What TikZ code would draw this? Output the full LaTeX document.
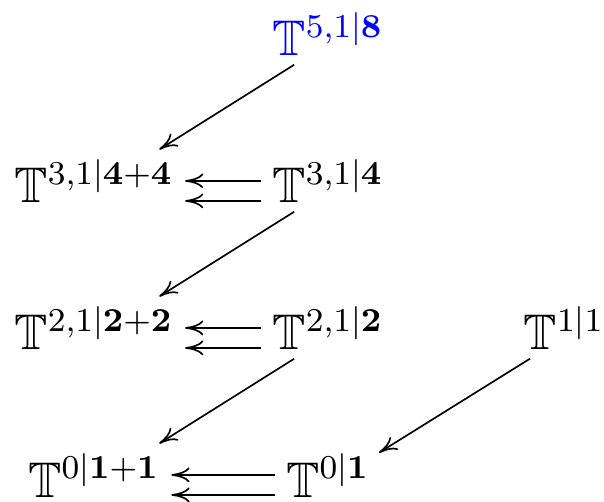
\documentclass[tikz,border=0pt]{standalone}
\usepackage{amssymb}
\usepackage{xcolor}
\usetikzlibrary{arrows.meta}

\begin{document}
\begin{tikzpicture}[x=0.24pt, y=-0.24pt, font=\fontsize{12}{14.4}\selectfont,
  obj/.style={anchor=base, inner xsep=2.6pt, inner ysep=2pt},
  map/.style={-{Computer Modern Rightarrow[length=4.4pt, width=3.6pt]}, line width=0.4pt},
  diag/.style={map, shorten <=9.6pt, shorten >=#1},
  diag/.default=18.5pt,
  upper/.style={yshift=5.3pt},
  lower/.style={yshift=0.5pt},
  axis/.style={yshift=3pt}]
  \useasboundingbox (0,0) rectangle (604,502);
  % objects
  \node[obj, blue] (t518) at (328,56) {$\mathbb{T}^{5,1|\mathbf{8}}$};
  \node[obj] (t3144) at (94,203) {$\mathbb{T}^{3,1|\mathbf{4+4}}$};
  \node[obj] (t314) at (328,203) {$\mathbb{T}^{3,1|\mathbf{4}}$};
  \node[obj] (t2122) at (94,350) {$\mathbb{T}^{2,1|\mathbf{2+2}}$};
  \node[obj] (t212) at (328,350) {$\mathbb{T}^{2,1|\mathbf{2}}$};
  \node[obj] (t11) at (564,350) {$\mathbb{T}^{1|1}$};
  \node[obj] (t011) at (94,497) {$\mathbb{T}^{0|\mathbf{1+1}}$};
  \node[obj] (t01) at (328,497) {$\mathbb{T}^{0|\mathbf{1}}$};
  % diagonal maps, axis to axis
  \draw[diag] ([axis]t518.base) -- ([axis]t3144.base);
  \draw[diag] ([axis]t314.base) -- ([axis]t2122.base);
  \draw[diag] ([axis]t212.base) -- ([axis]t011.base);
  \draw[diag=14.4pt] ([axis]t11.base) -- ([axis]t01.base);
  % parallel pairs
  \foreach \s/\t in {t314/t3144, t212/t2122, t01/t011} {
    \draw[map] ([upper]\s.base west) -- ([upper]\t.base east);
    \draw[map] ([lower]\s.base west) -- ([lower]\t.base east);
  }
\end{tikzpicture}
\end{document}
